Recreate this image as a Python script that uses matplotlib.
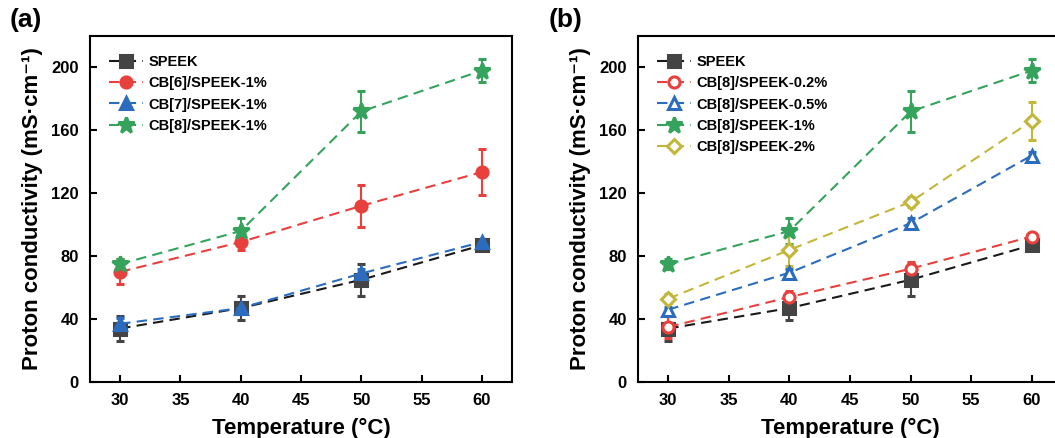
import matplotlib.pyplot as plt

plt.rcParams['font.family'] = ['Liberation Sans', 'DejaVu Sans']
plt.rcParams['font.weight'] = 'bold'

temps = [30, 40, 50, 60]

# panel (a)
speek = [34, 47, 65, 87]
speek_err = [8, 7.5, 10, 2]
cb6 = [70, 89, 112, 133.5]
cb6_err = [8, 5, 13.5, 14.5]
cb7 = [37, 47, 69, 89]
cb7_err = [4, 3, 3, 2]
cb8_1 = [75, 96, 172, 198]
cb8_1_err = [3, 8, 13, 7.5]

# panel (b)
cb8_02 = [35, 54, 72, 92.5]
cb8_02_err = [7, 4, 4.5, 2]
cb8_05 = [46, 69.5, 101, 144]
cb8_05_err = [2, 2.5, 3, 2]
cb8_2 = [53, 84, 114.5, 166]
cb8_2_err = [3, 10, 3, 12]

BLACK = '#1a1a1a'
GRAY = '#444444'
RED = '#e8413d'
BLUE = '#2c6cbf'
GREEN = '#35a35c'
OLIVE = '#c2b73a'

fig = plt.figure(figsize=(10.55, 4.38), dpi=100)
ax_a = fig.add_axes([90 / 1055, 1 - 382 / 438, 422 / 1055, 346 / 438])
ax_b = fig.add_axes([638 / 1055, 1 - 382 / 438, 424 / 1055, 346 / 438])


def plot_series(ax, y, err, color, marker, label, mfc=None, ms=8, line=None):
    ax.errorbar(temps, y, yerr=err, color=line or color, ls=(0, (5, 3)), lw=1.5,
                marker=marker, ms=ms, mfc=mfc or color, mec=color, mew=2.2,
                ecolor=color, elinewidth=1.5, capsize=3, capthick=1.5, label=label)


plot_series(ax_a, speek, speek_err, GRAY, 's', 'SPEEK', line=BLACK)
plot_series(ax_a, cb6, cb6_err, RED, 'o', 'CB[6]/SPEEK-1%')
plot_series(ax_a, cb7, cb7_err, BLUE, '^', 'CB[7]/SPEEK-1%')
plot_series(ax_a, cb8_1, cb8_1_err, GREEN, '*', 'CB[8]/SPEEK-1%', ms=12)

plot_series(ax_b, speek, speek_err, GRAY, 's', 'SPEEK', line=BLACK)
plot_series(ax_b, cb8_02, cb8_02_err, RED, 'o', 'CB[8]/SPEEK-0.2%', mfc='white')
plot_series(ax_b, cb8_05, cb8_05_err, BLUE, '^', 'CB[8]/SPEEK-0.5%', mfc='white')
plot_series(ax_b, cb8_1, cb8_1_err, GREEN, '*', 'CB[8]/SPEEK-1%', ms=12)
plot_series(ax_b, cb8_2, cb8_2_err, OLIVE, 'D', 'CB[8]/SPEEK-2%', mfc='white', ms=7)

for ax in [ax_a, ax_b]:
    ax.set_xlim(27.5, 62.5)
    ax.set_ylim(0, 220)
    ax.set_xticks([30, 35, 40, 45, 50, 55, 60])
    ax.set_yticks([0, 40, 80, 120, 160, 200])
    ax.tick_params(direction='in', length=5, width=1.5, labelsize=12, pad=8)
    for lab in ax.get_xticklabels() + ax.get_yticklabels():
        lab.set_fontweight('bold')
    for sp in ax.spines.values():
        sp.set_linewidth(1.5)
    ax.set_xlabel('Temperature (°C)', fontsize=16, fontweight='bold', labelpad=7)
    ax.set_ylabel('Proton conductivity (mS·cm⁻¹)', fontsize=16,
                  fontweight='bold', labelpad=6)
    handles, labels = ax.get_legend_handles_labels()
    handles = [h[0] for h in handles]
    ax.legend(handles, labels, loc='upper left', frameon=False,
              handlelength=2.3, handletextpad=0.4, labelspacing=0.5,
              borderaxespad=0.9, prop={'weight': 'bold', 'size': 10.5})

fig.text(10 / 1055, 1 - 8 / 438, '(a)', fontsize=19, fontweight='bold', va='top', ha='left')
fig.text(549 / 1055, 1 - 8 / 438, '(b)', fontsize=19, fontweight='bold', va='top', ha='left')

fig.savefig('out.png', dpi=100)
